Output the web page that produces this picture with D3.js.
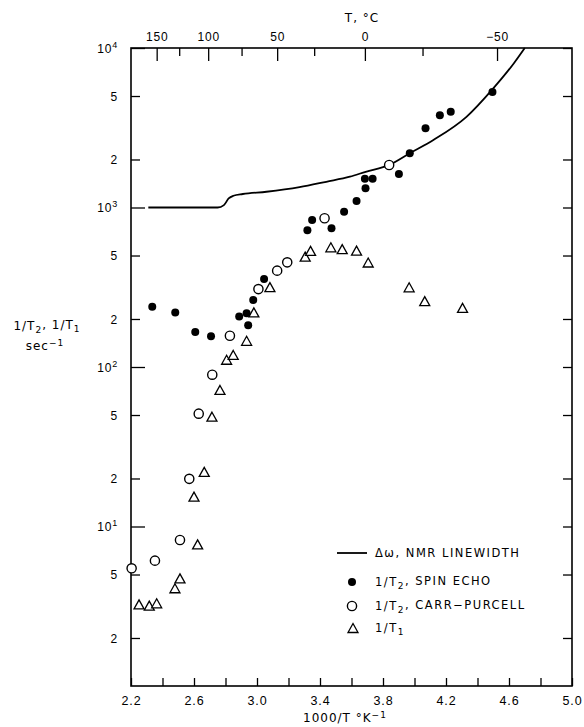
<!DOCTYPE html>
<html>
<head>
<meta charset="utf-8">
<title>Relaxation rates vs 1000/T</title>
<style>
  body { margin: 0; background: #fff; }
  svg { display: block; font-family: "DejaVu Sans", sans-serif; }
  .axis path { display: none; }
  .axis line { stroke: #000; stroke-width: 1.3; }
  .axis text { font-size: 12px; fill: #000; letter-spacing: 0.8px; }
  .lbl { font-size: 12px; fill: #000; letter-spacing: 1px; }
  .leg { font-size: 11.5px; fill: #000; letter-spacing: 1.5px; }
</style>
</head>
<body>
<svg width="584" height="727"></svg>
<script src="https://d3js.org/d3.v7.min.js"></script>
<script>
// ---- data ----
// NMR linewidth curve (1000/T, sec^-1)
var lineX = [2.31, 2.75, 2.79, 2.82, 2.85, 2.91, 3.06, 3.27, 3.44, 3.59, 3.69, 3.84, 3.97, 4.12, 4.33, 4.50, 4.63, 4.70];
var lineY = [1000, 1000, 1035, 1140, 1185, 1215, 1255, 1340, 1450, 1560, 1675, 1850, 2190, 2650, 3700, 5580, 8000, 10000];

// 1/T2 spin echo (filled circles)
var echoX = [2.335, 2.481, 2.608, 2.708, 2.887, 2.934, 2.944, 2.976, 3.045, 3.320, 3.350, 3.473, 3.553, 3.632, 3.689, 3.685, 3.734, 3.901, 3.970, 4.070, 4.161, 4.230, 4.495];
var echoY = [239, 220, 166, 156, 207, 217, 183, 263, 356, 721, 835, 741, 941, 1099, 1319, 1517, 1517, 1622, 2187, 3138, 3785, 3990, 5296];

// 1/T2 Carr-Purcell (open circles)
var carrX = [2.204, 2.352, 2.511, 2.570, 2.630, 2.716, 2.828, 3.009, 3.128, 3.192, 3.429, 3.839];
var carrY = [5.47, 6.11, 8.23, 19.9, 51.0, 89.5, 157, 308, 402, 453, 856, 1847];

// 1/T1 (open triangles)
var t1X = [2.251, 2.316, 2.363, 2.479, 2.511, 2.600, 2.623, 2.665, 2.714, 2.765, 2.807, 2.849, 2.934, 2.980, 3.082, 3.306, 3.340, 3.469, 3.541, 3.632, 3.706, 3.966, 4.065, 4.305];
var t1Y = [3.25, 3.19, 3.30, 4.10, 4.73, 15.4, 7.73, 22.0, 48.8, 71.8, 111, 119, 146, 220, 317, 492, 535, 563, 548, 537, 452, 316, 259, 235];

// axis ticks
var bottomTicks = [2.2, 2.4, 2.6, 2.8, 3.0, 3.2, 3.4, 3.6, 3.8, 4.0, 4.2, 4.4, 4.6, 4.8, 5.0];
var bottomLabels = ["2.2", "2.6", "3.0", "3.4", "3.8", "4.2", "4.6", "5.0"];
var topTickC = [150, 125, 100, 75, 50, 25, 0, -25, -50];
var topTickPos = [2.363, 2.506, 2.690, 2.902, 3.128, 3.363, 3.685, 4.051, 4.524];
var topLabelC = [150, 100, 50, 0, -50];
var yDecades = [10, 100, 1000, 10000];
var yMinor = [2, 5, 20, 50, 200, 500, 2000, 5000];
var legendNames = ["line", "echo", "carr", "t1"];

var svg = d3.select("svg");
var pL = 131, pR = 572, pT = 48, pB = 686;

var x = d3.scaleLinear().domain([2.2, 5.0]).range([pL, pR]);
var y = d3.scaleLog().domain([1, 10000]).range([pB, pT]);

// bottom axis
svg.append("g").attr("class", "axis")
  .attr("transform", "translate(0," + pB + ")")
  .call(d3.axisBottom(x).tickValues(bottomTicks).tickSizeInner(-8).tickSizeOuter(0)
    .tickFormat(function (d) { var s = d3.format(".1f")(d); return bottomLabels.indexOf(s) >= 0 ? s : ""; }))
  .selectAll("text").attr("y", 10).attr("dy", "0.71em").style("font-size", "12.5px");

// top axis: Celsius ticks
var topG = svg.append("g").attr("class", "axis").attr("transform", "translate(0," + pT + ")");
topG.call(d3.axisTop(x).tickValues(topTickPos).tickSizeOuter(0).tickSizeInner(0).tickFormat(""));
topG.selectAll(".tick line").attr("y2", function (d, i) {
  return topLabelC.indexOf(topTickC[i]) >= 0 ? 13 : 8;
});
topG.selectAll(".tick").append("text")
  .attr("y", -7)
  .attr("text-anchor", "middle")
  .text(function (d, i) { return topLabelC.indexOf(topTickC[i]) >= 0 ? String(topTickC[i]).replace("-", "\u2212") : ""; });

// left axis
var leftG = svg.append("g").attr("class", "axis").attr("transform", "translate(" + pL + ",0)");
leftG.call(d3.axisLeft(y).tickValues(yDecades.concat(yMinor)).tickSizeOuter(0).tickSizeInner(0).tickFormat(""));
leftG.selectAll(".tick line").attr("x2", function (d) { return yDecades.indexOf(d) >= 0 ? 14 : 9; });
leftG.selectAll(".tick").each(function (d) {
  var t = d3.select(this).append("text").attr("x", -13).attr("dy", "0.36em").attr("text-anchor", "end");
  if (yDecades.indexOf(d) >= 0) {
    t.append("tspan").text("10");
    t.append("tspan").attr("dy", "-0.55em").style("font-size", "9px").text(Math.round(Math.log10(d)));
  } else {
    t.text(String(d).charAt(0));
  }
});

// right axis
var rightG = svg.append("g").attr("class", "axis").attr("transform", "translate(" + pR + ",0)");
rightG.call(d3.axisRight(y).tickValues(yDecades.concat(yMinor)).tickSizeOuter(0).tickSizeInner(-9).tickFormat(""));

// frame
svg.append("rect")
  .attr("x", pL).attr("y", pT)
  .attr("width", pR - pL).attr("height", pB - pT)
  .attr("fill", "none").attr("stroke", "#000").attr("stroke-width", 1.6);

// axis titles
svg.append("text").attr("class", "lbl").attr("x", 362).attr("y", 22).attr("text-anchor", "middle").text("T, \u00b0C");

var xt = svg.append("text").attr("class", "lbl").attr("x", 303).attr("y", 722);
xt.append("tspan").text("1000/T  \u00b0K");
xt.append("tspan").attr("dy", "-0.5em").style("font-size", "9px").text("\u22121");

var yt = svg.append("text").attr("class", "lbl").attr("text-anchor", "middle");
yt.append("tspan").attr("x", 47).attr("y", 330).text("1/T");
yt.append("tspan").attr("dy", "0.3em").style("font-size", "9px").text("2");
yt.append("tspan").attr("dy", "-0.3em").text(", 1/T");
yt.append("tspan").attr("dy", "0.3em").style("font-size", "9px").text("1");
var yt2 = svg.append("text").attr("class", "lbl").attr("text-anchor", "middle").attr("x", 45).attr("y", 350);
yt2.append("tspan").text("sec");
yt2.append("tspan").attr("dy", "-0.5em").style("font-size", "9px").text("\u22121");

// NMR linewidth curve
var lineData = lineX.map(function (v, i) { return [v, lineY[i]]; });
svg.append("path")
  .datum(lineData)
  .attr("fill", "none").attr("stroke", "#000").attr("stroke-width", 1.8)
  .attr("d", d3.line().x(function (d) { return x(d[0]); }).y(function (d) { return y(d[1]); }).curve(d3.curveMonotoneX));

function tri(s) {
  var h = s * 0.9;
  return "M0," + (-h / 2) + "L" + (s / 2) + "," + (h / 2) + "L" + (-s / 2) + "," + (h / 2) + "Z";
}

// triangles
svg.append("g").selectAll("path")
  .data(t1X.map(function (v, i) { return [v, t1Y[i]]; }))
  .enter().append("path")
  .attr("d", tri(10))
  .attr("transform", function (d) { return "translate(" + x(d[0]) + "," + y(d[1]) + ")"; })
  .attr("fill", "#fff").attr("stroke", "#000").attr("stroke-width", 1.3);

// open circles
svg.append("g").selectAll("circle")
  .data(carrX.map(function (v, i) { return [v, carrY[i]]; }))
  .enter().append("circle")
  .attr("cx", function (d) { return x(d[0]); })
  .attr("cy", function (d) { return y(d[1]); })
  .attr("r", 4.6)
  .attr("fill", "#fff").attr("stroke", "#000").attr("stroke-width", 1.4);

// filled circles
svg.append("g").selectAll("circle")
  .data(echoX.map(function (v, i) { return [v, echoY[i]]; }))
  .enter().append("circle")
  .attr("cx", function (d) { return x(d[0]); })
  .attr("cy", function (d) { return y(d[1]); })
  .attr("r", 4)
  .attr("fill", "#000");

// legend
var legRows = [553, 582, 606, 628];
var leg = svg.append("g");
legendNames.forEach(function (name, i) {
  var cy = legRows[i];
  if (name === "line") {
    leg.append("line").attr("x1", 337).attr("x2", 367).attr("y1", cy).attr("y2", cy)
      .attr("stroke", "#000").attr("stroke-width", 1.8);
  } else if (name === "echo") {
    leg.append("circle").attr("cx", 352).attr("cy", cy).attr("r", 4).attr("fill", "#000");
  } else if (name === "carr") {
    leg.append("circle").attr("cx", 352).attr("cy", cy).attr("r", 4.6)
      .attr("fill", "#fff").attr("stroke", "#000").attr("stroke-width", 1.4);
  } else {
    leg.append("path").attr("d", tri(10)).attr("transform", "translate(353," + cy + ")")
      .attr("fill", "#fff").attr("stroke", "#000").attr("stroke-width", 1.3);
  }
  var t = leg.append("text").attr("class", "leg").attr("x", 375).attr("y", cy).attr("dy", "0.36em");
  if (name === "line") {
    t.text("\u0394\u03c9, NMR LINEWIDTH");
  } else if (name === "t1") {
    t.append("tspan").text("1/T");
    t.append("tspan").attr("dy", "0.3em").style("font-size", "9px").text("1");
  } else {
    t.append("tspan").text("1/T");
    t.append("tspan").attr("dy", "0.3em").style("font-size", "9px").text("2");
    t.append("tspan").attr("dy", "-0.3em").text(name === "echo" ? ", SPIN ECHO" : ", CARR\u2212PURCELL");
  }
});
</script>
</body>
</html>
